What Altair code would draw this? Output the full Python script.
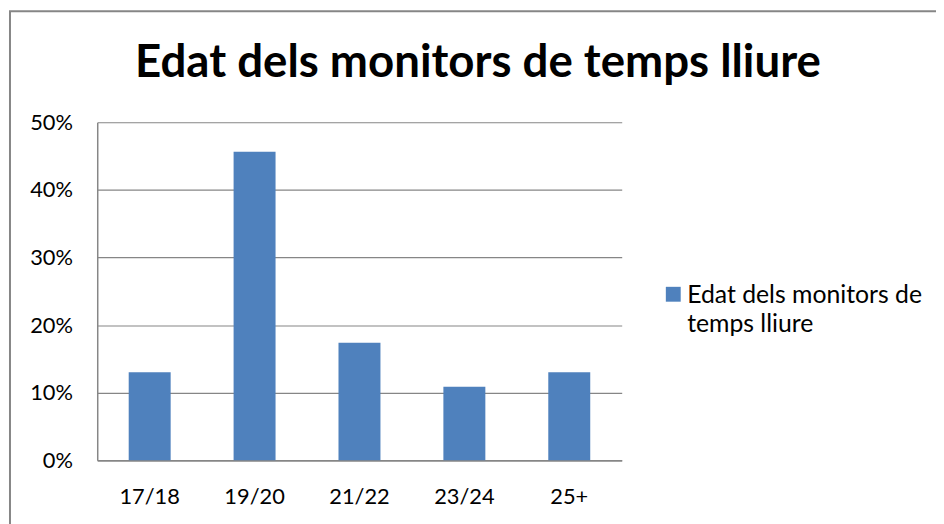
import altair as alt
import pandas as pd

categories = ["17/18", "19/20", "21/22", "23/24", "25+"]
values = [0.1304, 0.4565, 0.1739, 0.1087, 0.1304]
series_name = "Edat dels monitors de temps lliure"
legend_lines = ["Edat dels monitors de", "temps lliure"]
title_text = "Edat dels monitors de temps lliure"

df = pd.DataFrame({"cat": categories, "val": values, "series": [series_name] * len(categories)})
tdf = pd.DataFrame({"t": [title_text]})
one = pd.DataFrame({"k": [0]})

FONT = "Lato"
GRAY = "#868686"
BLUE = "#4F81BD"

bars = alt.Chart(df).mark_bar(color=BLUE).encode(
    x=alt.X("cat:N", sort=categories, title=None,
            scale=alt.Scale(paddingInner=0.6, paddingOuter=0.3),
            axis=alt.Axis(labelAngle=0, labelFontSize=22, labelFont=FONT, labelColor="#000000",
                          labelPadding=27, ticks=False, domainColor=GRAY, domainWidth=1.5)),
    y=alt.Y("val:Q", title=None,
            scale=alt.Scale(domain=[0, 0.5], nice=False),
            axis=alt.Axis(format=".0%", values=[0, 0.1, 0.2, 0.3, 0.4, 0.5], labelFontSize=22,
                          labelFont=FONT, labelColor="#000000", labelPadding=25, ticks=False,
                          grid=True, gridColor=GRAY, gridWidth=1.2, domainColor=GRAY, domainWidth=1.5)),
)

border = alt.Chart(one).mark_rect(fill=None, stroke=GRAY, strokeWidth=2, clip=False).encode(
    x=alt.value(-88), x2=alt.value(1000), y=alt.value(-112), y2=alt.value(700)
)

title = alt.Chart(tdf).mark_text(font=FONT, fontSize=46, fontWeight="bold", color="#000000",
                                 align="center", baseline="alphabetic", clip=False).encode(
    text="t:N", x=alt.value(384), y=alt.value(-46)
)

legend_sym = alt.Chart(one).mark_square(size=225, color=BLUE, opacity=1, clip=False).encode(
    x=alt.value(581), y=alt.value(173.5)
)
legend_txt = alt.Chart(one).mark_text(font=FONT, fontSize=25, color="#000000", align="left",
                                      baseline="alphabetic", lineHeight=30, clip=False).encode(
    text=alt.value(legend_lines), x=alt.value(595), y=alt.value(182)
)

chart = alt.layer(border, bars, title, legend_sym, legend_txt).properties(
    width=529, height=341,
    padding={"left": 90, "top": 113, "right": 317, "bottom": 62},
    autosize=alt.AutoSizeParams(type="none"),
).configure_view(stroke=None)

chart.save("out.html", embed_options={"renderer": "svg", "actions": False})
